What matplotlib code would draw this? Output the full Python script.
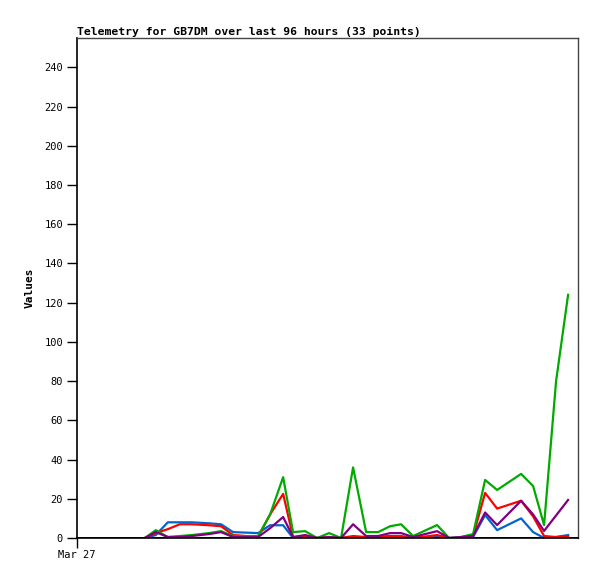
import matplotlib
matplotlib.use("Agg")
import matplotlib.pyplot as plt

# hours since Mar 27 00:00
hours = [13.0, 15.1, 17.4, 19.7, 22.0, 25.3, 27.6, 29.9, 34.7, 37.0, 39.5,
         41.4, 43.7, 46.0, 48.3, 50.6, 52.9, 55.4, 57.7, 60.0, 62.1, 64.4,
         69.0, 71.3, 73.6, 75.9, 78.2, 80.5, 85.1, 87.4, 89.5, 91.8, 94.1]

green = [0, 4, 0.5, 1, 1.5, 2.5, 3.5, 1, 1, 12, 31,
         3, 3.5, 0, 2.5, 0, 36, 3, 3, 6, 7, 1,
         6.6, 0, 0.5, 2, 29.6, 24.5, 32.7, 26.5, 6.6, 80, 124]
red = [0, 2.5, 4.5, 7, 7, 6.5, 6, 1.5, 0.5, 12, 22.5,
       0.5, 0.5, 0, 0.5, 0, 1, 0.5, 0.5, 1, 0.5, 0,
       1.5, 0, 0, 1, 23, 15, 19, 11, 1, 0.5, 1]
purple = [0, 3, 0.5, 0.5, 1, 2, 3, 0.5, 0.5, 5, 10.7,
          0.5, 1.5, 0, 0.5, 0, 7, 1, 1, 2.5, 2.5, 0.5,
          3.5, 0, 0.5, 1, 13, 6.6, 19, 12, 3.6, 11.5, 19.4]
blue = [0, 1.5, 8, 8, 8, 7.5, 7, 3, 2.5, 6.5, 6.5,
        0, 0.5, 0, 0, 0, 0.5, 0, 0, 1, 1, 0,
        0.5, 0, 0, 0.5, 11.7, 4, 10, 3, 0, 0.5, 1.5]

yticks = list(range(0, 241, 20))
title = "Telemetry for GB7DM over last 96 hours (33 points)"
xlabel_text = "Mar 27"

fig = plt.figure(figsize=(5.97, 5.79), dpi=100)
ax = fig.add_axes([77/597, 41/579, 501/597, 500/579])

lw = 1.6
ax.plot(hours, blue, color="#0066cc", lw=lw, zorder=3)
ax.plot(hours, red, color="#ff0000", lw=lw, zorder=4)
ax.plot(hours, green, color="#00aa00", lw=lw, zorder=5)
ax.plot(hours, purple, color="#800080", lw=lw, zorder=6)
ax.axhline(0, color="black", lw=2, zorder=7)

ax.set_xlim(0, 96)
ax.set_ylim(0, 255)
ax.set_yticks(yticks)
ax.set_yticklabels([str(v) for v in yticks], fontsize=7.5, family="DejaVu Sans Mono")
ax.set_xticks([0])
ax.set_xticklabels([xlabel_text], fontsize=7.5, family="DejaVu Sans Mono")
ax.tick_params(axis="both", direction="out", length=7, width=1, color="black", pad=3)
ax.tick_params(axis="x", pad=2)

for s in ["left", "bottom"]:
    ax.spines[s].set_color("black")
    ax.spines[s].set_linewidth(1.2)
for s in ["top", "right"]:
    ax.spines[s].set_color("#444444")
    ax.spines[s].set_linewidth(1)

ax.set_ylabel("Values", fontsize=8, fontweight="bold", family="DejaVu Sans Mono", labelpad=7)
ax.set_title(title, fontsize=8.2, fontweight="bold", family="DejaVu Sans Mono", loc="left", pad=2)

fig.savefig("out.png", dpi=100)
